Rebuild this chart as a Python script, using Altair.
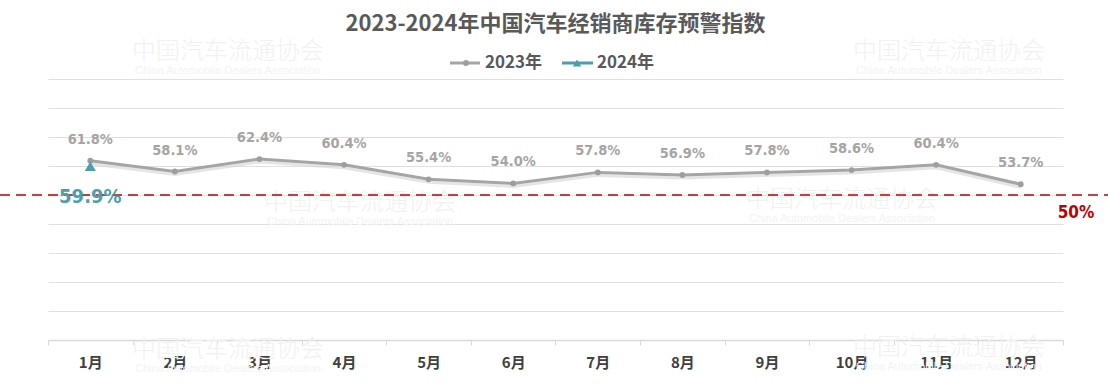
import altair as alt
import pandas as pd

# ---- data ----
months = ["1月", "2月", "3月", "4月", "5月", "6月", "7月", "8月", "9月", "10月", "11月", "12月"]
values_2023 = [61.8, 58.1, 62.4, 60.4, 55.4, 54.0, 57.8, 56.9, 57.8, 58.6, 60.4, 53.7]
months_2024 = ["1月"]
values_2024 = [59.9]
series_names = ["2023年", "2024年"]
threshold = [50]
threshold_label = "50%"
y_gridlines = [0, 10, 20, 30, 40, 50, 60, 70, 80, 90]
chart_title = "2023-2024年中国汽车经销商库存预警指数"
watermark_cn = "中国汽车流通协会"
watermark_en = "China Automobile Dealers Association"

GRAY = "#A5A5A5"
TEAL = "#4A9FAD"
RED = "#C00000"
CJK = "Noto Sans CJK SC"
NARROW = "Liberation Sans Narrow, Arial Narrow, DejaVu Sans Condensed, sans-serif"

df23 = pd.DataFrame({"month": months, "value": values_2023, "series": series_names[0]})
df24 = pd.DataFrame({"month": months_2024, "value": values_2024, "series": series_names[1]})
df_thr = pd.DataFrame({"value": threshold})

x_enc = alt.X(
    "month:N",
    sort=months,
    scale=alt.Scale(type="band", domain=months, paddingInner=0, paddingOuter=0),
    axis=alt.Axis(
        title=None, labelAngle=0, grid=False,
        domainColor="#D9D9D9", domainWidth=1.5,
        tickColor="#D9D9D9", tickSize=5, tickBand="extent", tickWidth=1,
        labelFont=CJK, labelFontSize=15, labelFontWeight="bold",
        labelColor="#404040", labelPadding=10,
    ),
)
y_enc = alt.Y(
    "value:Q",
    scale=alt.Scale(domain=[0, 90], nice=False, zero=True),
    axis=alt.Axis(
        title=None, values=y_gridlines, labels=False, ticks=False, domain=False,
        grid=True, gridColor="#E0E0E0", gridWidth=1,
    ),
)

base23 = alt.Chart(df23).encode(x=x_enc, y=y_enc)
base24 = alt.Chart(df24).encode(x=x_enc, y=y_enc)
base_thr = alt.Chart(df_thr).encode(y=y_enc)

# ---- watermarks (decorative) ----
wm_layers = []
wm_spots = [(180, -27), (901, -27), (312, 124), (794, 121), (180, 271), (901, 269)]
for cx, cy in wm_spots:
    wm_layers.append(
        alt.Chart(df_thr).mark_text(
            text=watermark_cn, font=CJK, fontSize=24, fontWeight=300, color="#F1F1F1",
            align="center", baseline="middle"
        ).encode(x=alt.value(cx), y=alt.value(cy))
    )
    wm_layers.append(
        alt.Chart(df_thr).mark_text(
            text=watermark_en, font="Liberation Sans, sans-serif", fontSize=11, color="#F3F3F3",
            align="center", baseline="middle"
        ).encode(x=alt.value(cx), y=alt.value(cy + 19))
    )

# ---- threshold line ----
thr_rule = base_thr.mark_rule(color=RED, strokeDash=[10, 6], strokeWidth=1.5).encode(
    x=alt.value(-48), x2=alt.value(1060)
)
thr_text = base_thr.mark_text(
    text=threshold_label, font=NARROW, fontSize=17, fontWeight="bold", color=RED,
    align="center", baseline="middle", dy=18
).encode(x=alt.value(1028))

# ---- 2023 series ----
shadow23 = base23.mark_line(color="#D4D4D4", strokeWidth=3, opacity=0.6, yOffset=3)
line23 = base23.mark_line(color=GRAY, strokeWidth=3)
pts23 = base23.mark_point(shape="circle", filled=True, size=34, color="#9E9E9E", opacity=1)
lab23 = base23.mark_text(
    font=NARROW, fontSize=14.5, fontWeight="bold", color=GRAY, dy=-21, baseline="middle"
).transform_calculate(lbl="format(datum.value, '.1f') + '%'").encode(text="lbl:N")

# ---- 2024 series ----
pts24 = base24.mark_point(shape="triangle-up", filled=True, size=120, color=TEAL, opacity=1)
lab24 = base24.mark_text(
    font=NARROW, fontSize=20, fontWeight="bold", color=TEAL, dy=31, baseline="middle"
).transform_calculate(lbl="format(datum.value, '.1f') + '%'").encode(text="lbl:N")

# ---- legend (manual: line + marker) ----
leg_y = -16
legend_layers = [
    alt.Chart(df_thr).mark_rule(color=GRAY, strokeWidth=3).encode(
        x=alt.value(402), x2=alt.value(432), y=alt.value(leg_y)),
    alt.Chart(df_thr).mark_point(shape="circle", filled=True, size=34, color="#9E9E9E", opacity=1).encode(
        x=alt.value(418), y=alt.value(leg_y)),
    alt.Chart(df_thr).mark_text(text=series_names[0], font=CJK, fontSize=17, fontWeight="bold",
                                color="#595959", align="left", baseline="middle").encode(
        x=alt.value(437), y=alt.value(leg_y)),
    alt.Chart(df_thr).mark_rule(color=TEAL, strokeWidth=3).encode(
        x=alt.value(514), x2=alt.value(545), y=alt.value(leg_y)),
    alt.Chart(df_thr).mark_point(shape="triangle-up", filled=True, size=70, color=TEAL, opacity=1).encode(
        x=alt.value(529), y=alt.value(leg_y)),
    alt.Chart(df_thr).mark_text(text=series_names[1], font=CJK, fontSize=17, fontWeight="bold",
                                color="#595959", align="left", baseline="middle").encode(
        x=alt.value(549), y=alt.value(leg_y)),
]

chart = alt.layer(
    *wm_layers, shadow23, line23, thr_rule, pts23, lab23, pts24, lab24, thr_text, *legend_layers
).properties(
    width=1015,
    height=261,
    background="white",
    padding={"left": 48, "top": 79, "right": 45, "bottom": 45},
    autosize=alt.AutoSizeParams(type="none"),
    title=alt.TitleParams(
        chart_title, font=CJK, fontSize=22, fontWeight="bold", color="#595959",
        anchor="middle", offset=4,
    ),
).configure_view(strokeWidth=0, strokeOpacity=0)

chart.save("out.html", embed_options={"renderer": "svg", "actions": False})
